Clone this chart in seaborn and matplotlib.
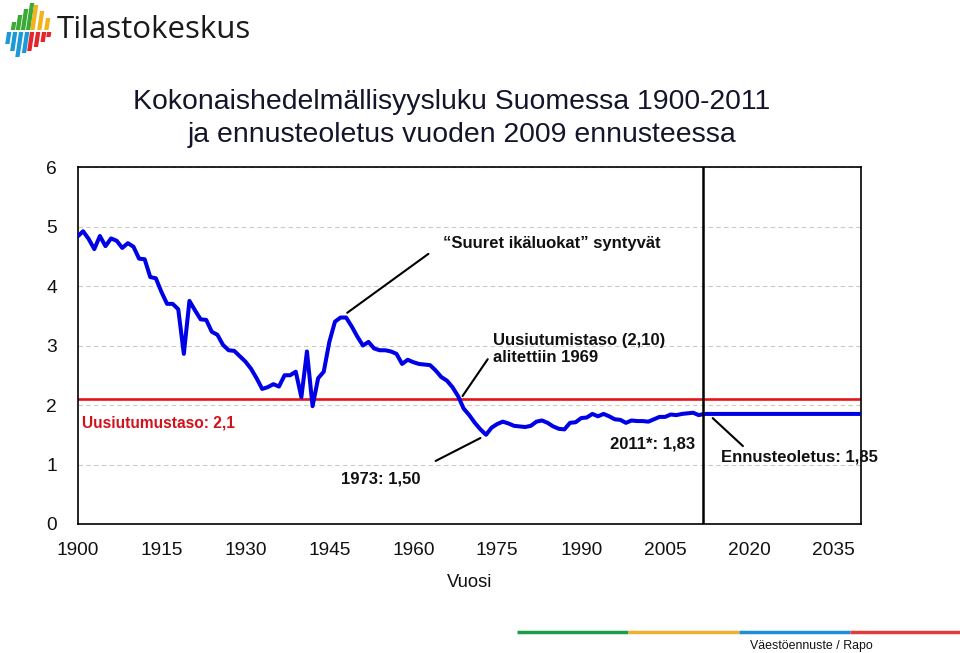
import matplotlib
matplotlib.use("Agg")
import matplotlib.pyplot as plt
import seaborn as sns
import pandas as pd
from matplotlib.patches import Polygon

# ---------------- data ----------------
hist_years = list(range(1900, 2012))
hist_tfr = [
    4.83, 4.92, 4.79, 4.62, 4.84, 4.67, 4.80, 4.76, 4.64, 4.72,   # 1900-1909
    4.66, 4.46, 4.45, 4.15, 4.13, 3.90, 3.70, 3.70, 3.61, 2.86,   # 1910-1919
    3.75, 3.59, 3.44, 3.43, 3.23, 3.18, 3.01, 2.92, 2.91, 2.82,   # 1920-1929
    2.73, 2.61, 2.45, 2.27, 2.30, 2.35, 2.31, 2.50, 2.50, 2.56,   # 1930-1939
    2.13, 2.90, 1.98, 2.45, 2.56, 3.06, 3.40, 3.47, 3.47, 3.32,   # 1940-1949
    3.15, 3.00, 3.06, 2.95, 2.92, 2.92, 2.90, 2.86, 2.69, 2.76,   # 1950-1959
    2.72, 2.69, 2.68, 2.67, 2.58, 2.47, 2.41, 2.30, 2.15, 1.94,   # 1960-1969
    1.83, 1.70, 1.59, 1.50, 1.62, 1.68, 1.72, 1.69, 1.65, 1.64,   # 1970-1979
    1.63, 1.65, 1.72, 1.74, 1.70, 1.64, 1.60, 1.59, 1.70, 1.71,   # 1980-1989
    1.78, 1.79, 1.85, 1.81, 1.85, 1.81, 1.76, 1.75, 1.70, 1.74,   # 1990-1999
    1.73, 1.73, 1.72, 1.76, 1.80, 1.80, 1.84, 1.83, 1.85, 1.86,   # 2000-2009
    1.87, 1.83,                                                   # 2010-2011
]
forecast_years = [2012, 2040]
forecast_tfr = [1.85, 1.85]
replacement_level = 2.1
forecast_start = 2011.7

x_ticks = [1900, 1915, 1930, 1945, 1960, 1975, 1990, 2005, 2020, 2035]
y_ticks = [0, 1, 2, 3, 4, 5, 6]

title_1 = "Kokonaishedelmällisyysluku Suomessa 1900-2011"
title_2 = "ja ennusteoletus vuoden 2009 ennusteessa"

df = pd.DataFrame({"Vuosi": hist_years + forecast_years,
                   "TFR": hist_tfr + forecast_tfr})

# ---------------- style ----------------
sns.set_theme(style="white")
plt.rcParams["font.family"] = ["Liberation Sans", "DejaVu Sans"]

W, H = 960, 653
fig = plt.figure(figsize=(W / 100, H / 100), dpi=100)
fig.patch.set_facecolor("white")

def fx(px):
    return px / W

def fy(py):
    return 1 - py / H

ax = fig.add_axes([fx(77.5), fy(524), (861 - 77.5) / W, (524 - 167) / H])
ax.set_facecolor("white")

ax.set_xlim(1900, 2040)
ax.set_ylim(0, 6)
ax.set_yticks(y_ticks)
ax.set_xticks(x_ticks)
ax.yaxis.grid(True, linestyle=(0, (4, 3)), color="#c9c9c9", linewidth=0.8)
ax.xaxis.grid(False)
ax.set_axisbelow(True)

# replacement level
ax.axhline(replacement_level, color="#e3141c", linewidth=1.9, zorder=2)

# main line
sns.lineplot(data=df, x="Vuosi", y="TFR", color="#0000e6", linewidth=2.9,
             ax=ax, zorder=3, legend=False)

# forecast boundary
ax.axvline(forecast_start, color="black", linewidth=1.8, zorder=4)

for s in ax.spines.values():
    s.set_visible(True)
    s.set_color("black")
    s.set_linewidth(1.2)

ax.tick_params(axis="both", length=0, labelsize=13.8, colors="#111111")
ax.tick_params(axis="y", pad=15)
ax.tick_params(axis="x", pad=13)
ax.set_xlabel("Vuosi", fontsize=13.2, color="#111111", labelpad=11)
ax.set_ylabel("")

# ---------------- annotations ----------------
ann_kw = dict(fontsize=12, fontweight="bold", color="#111111")
line_kw = dict(color="black", linewidth=1.5)

ax.plot([1948.2, 1962.7], [3.55, 4.54], **line_kw)
ax.text(1984.7, 4.71, "\u201cSuuret ikäluokat\u201d syntyvät", ha="center", va="center", **ann_kw)

ax.plot([1973.3, 1968.8], [2.77, 2.15], **line_kw)
ax.text(1974.3, 2.94, "Uusiutumistaso (2,10)\nalitettiin 1969", ha="left", va="center",
        linespacing=1.2, **ann_kw)

ax.plot([1964.0, 1972.0], [1.06, 1.445], **line_kw)
ax.text(1954.1, 0.756, "1973: 1,50", ha="center", va="center", **ann_kw)

ax.text(2002.7, 1.345, "2011*: 1,83", ha="center", va="center", **ann_kw)

ax.plot([2013.5, 2018.9], [1.78, 1.31], **line_kw)
ax.text(2014.9, 1.126, "Ennusteoletus: 1,85", ha="left", va="center", clip_on=False, **ann_kw)

ax.text(1900.8, 1.70, "Uusiutumustaso: 2,1", ha="left", va="center",
        fontsize=11.2, fontweight="bold", color="#d4111a")

# ---------------- titles ----------------
fig.text(fx(451.5), fy(102), title_1, ha="center", va="center", fontsize=20.4, color="#14142a")
fig.text(fx(462), fy(135), title_2, ha="center", va="center", fontsize=20.4, color="#14142a")

# ---------------- logo ----------------
def bar(x_top, y_top, y_bot, color, w=4.3, slant=0.15):
    dx = (y_bot - y_top) * slant
    pts = [(fx(x_top), fy(y_top)), (fx(x_top + w), fy(y_top)),
           (fx(x_top + w - dx), fy(y_bot)), (fx(x_top - dx), fy(y_bot))]
    fig.patches.append(Polygon(pts, closed=True, facecolor=color, edgecolor="none",
                               transform=fig.transFigure, figure=fig))

green, yellow, blue, red = "#3aa935", "#f2b31c", "#1b9ad6", "#e2262b"
for xt, yt in [(12, 22), (18, 15), (24, 9), (30, 3)]:
    bar(xt, yt, 30, green)
for xt, yt in [(36, 5), (42, 11), (48, 18)]:
    bar(xt - 2, yt, 30, yellow)
for xt, yb in [(7, 44), (13, 51), (19, 57), (25, 53)]:
    bar(xt, 32, yb, blue)
for xt, yb in [(31, 51), (37, 47), (43, 42), (48, 37)]:
    bar(xt - 1, 32, yb, red)

fig.text(fx(57), fy(30), "Tilastokeskus", ha="left", va="center", fontsize=22.5,
         family=["Open Sans", "DejaVu Sans"], color="#1a1a1a")

# ---------------- footer ----------------
for x0, x1, c in [(517, 628, "#1a9e4a"), (628, 739, "#f0b030"),
                  (739, 850, "#1b8fd6"), (850, 960, "#e03c3c")]:
    fig.add_artist(plt.Line2D([fx(x0), fx(x1)], [fy(632), fy(632)], color=c,
                              linewidth=2.5, transform=fig.transFigure,
                              solid_capstyle="butt"))
fig.text(fx(811.5), fy(646), "Väestöennuste / Rapo", ha="center", va="center",
         fontsize=8.9, color="#111111")

fig.savefig("out.png", dpi=100, facecolor="white")
